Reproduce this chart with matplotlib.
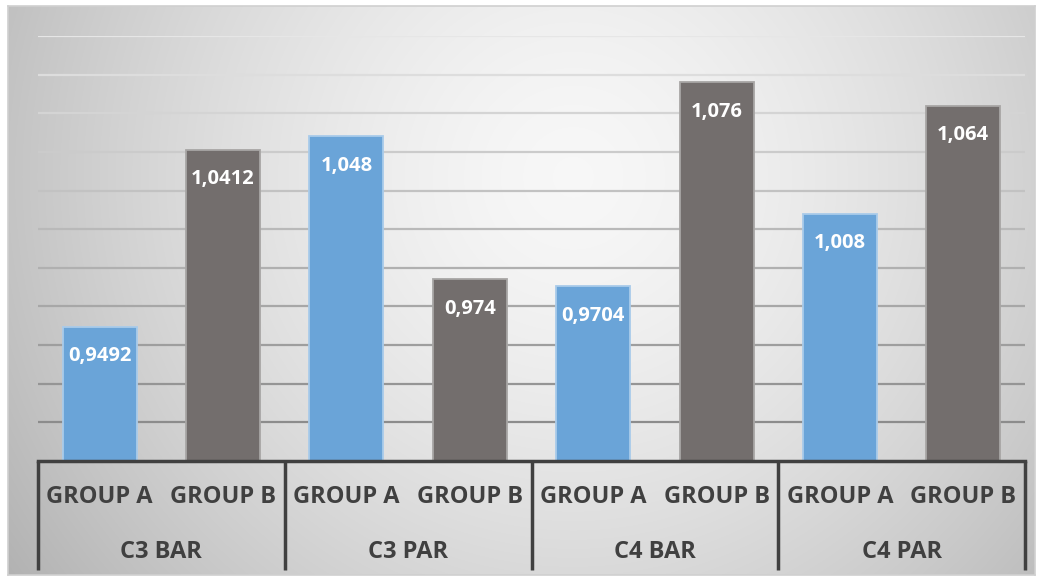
import matplotlib.pyplot as plt
import numpy as np

# chart values
categories = ['C3 BAR', 'C3 PAR', 'C4 BAR', 'C4 PAR']
groups = ['GROUP A', 'GROUP B']
values = [0.9492, 1.0412, 1.048, 0.974, 0.9704, 1.076, 1.008, 1.064]
value_labels = ['0,9492', '1,0412', '1,048', '0,974', '0,9704', '1,076', '1,008', '1,064']

W, H = 1043, 581
fig = plt.figure(figsize=(W / 100, H / 100), dpi=100)
fig.patch.set_facecolor('white')

font = 'Open Sans'
text_dark = '#404040'
blue = '#6aa4d8'
grey = '#736e6d'

# background panel with a radial gradient
left_px, top_px, right_px, bottom_px = 8, 6, 1035, 575
bg = fig.add_axes([left_px / W, 1 - bottom_px / H, (right_px - left_px) / W, (bottom_px - top_px) / H])
bw, bh = right_px - left_px, bottom_px - top_px
xx, yy = np.meshgrid(np.arange(bw), np.arange(bh))
cx, cy = 0.55 * bw, 0.3 * bh
d = np.sqrt((xx - cx) ** 2 + (yy - cy) ** 2) / 600.0
shade = np.clip(0.97 - 0.22 * d ** 1.5, 0, 1)
bg.imshow(np.dstack([shade, shade, shade]), aspect='auto', extent=(0, 1, 0, 1), origin='upper')
bg.set_xticks([])
bg.set_yticks([])
for s in bg.spines.values():
    s.set_color('#d0d0d0')
    s.set_linewidth(1.2)

# main plot area
ax_l, ax_r, ax_t, ax_b = 38, 1025, 36, 461
ax = fig.add_axes([ax_l / W, 1 - ax_b / H, (ax_r - ax_l) / W, (ax_b - ax_t) / H])
ax.set_facecolor('none')
ax.set_ylim(0.88, 1.10)
ax.set_xlim(-0.5, len(values) - 0.5)

# gridlines get darker towards the bottom, as in the original
grid_vals = np.arange(0.90, 1.1001, 0.02)
for gv in grid_vals:
    frac = (gv - 0.90) / 0.20
    c = 0.55 + 0.35 * frac
    ax.axhline(gv, color=(c, c, c), lw=1.6, zorder=1)

x = np.arange(len(values))
colors = [blue, grey] * len(categories)
edges = ['#a9cbea', '#a8a6a5'] * len(categories)
ax.bar(x, values, width=0.6, bottom=0, color=colors, edgecolor=edges, linewidth=1.3, zorder=2)

for xi, v, lab in zip(x, values, value_labels):
    ax.annotate(lab, (xi, v), xytext=(0, -21), textcoords='offset points',
                ha='center', va='center', color='white', fontsize=14.5,
                fontweight='bold', family=font, zorder=3)

ax.set_xticks([])
ax.set_yticks([])
for s in ['top', 'left', 'right']:
    ax.spines[s].set_visible(False)
ax.spines['bottom'].set_color(text_dark)
ax.spines['bottom'].set_linewidth(2.5)
ax.spines['bottom'].set_zorder(4)

# two-level category axis
axis_h = ax_b - ax_t
sep_bottom = -(570 - ax_b) / axis_h
for k in range(len(categories) + 1):
    xs = k * 2 - 0.5
    ax.plot([xs, xs], [0, sep_bottom], transform=ax.get_xaxis_transform(),
            color=text_dark, lw=2.5, clip_on=False, solid_capstyle='butt')

trans = ax.get_xaxis_transform()
for xi in x:
    ax.text(xi, -(497 - ax_b) / axis_h, groups[xi % 2], transform=trans,
            ha='center', va='center', fontsize=17, fontweight='bold',
            color=text_dark, family=font)
for k, cat in enumerate(categories):
    ax.text(k * 2 + 0.5, -(552 - ax_b) / axis_h, cat, transform=trans,
            ha='center', va='center', fontsize=17, fontweight='bold',
            color=text_dark, family=font)

fig.savefig('out.png', dpi=100)
